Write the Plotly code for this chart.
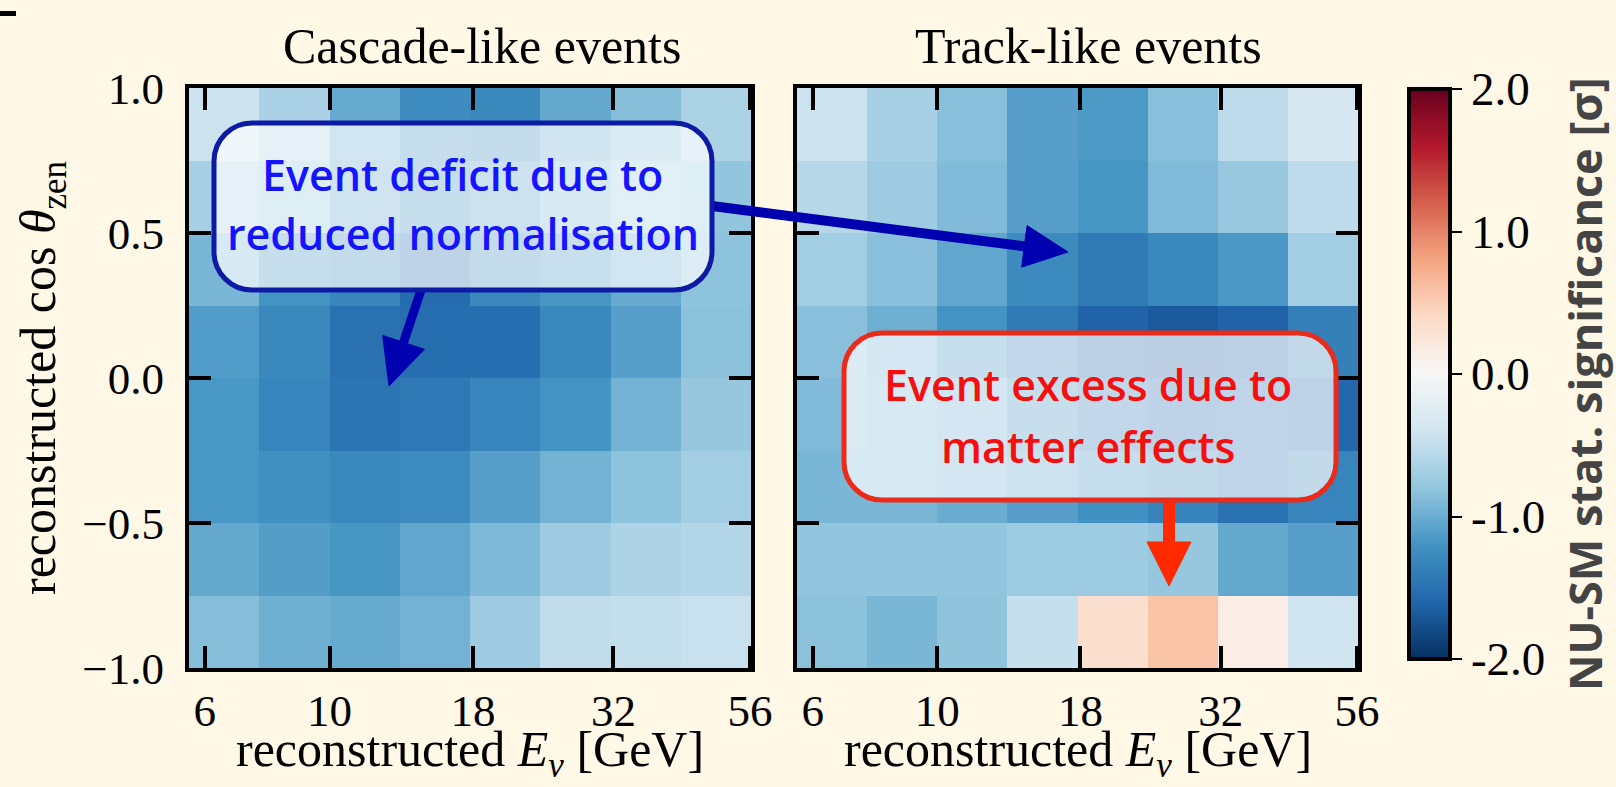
import math
import plotly.graph_objects as go

W, H = 1616, 787
BG = "#fff8e7"

# ---------------- data ----------------
energy_edges = [5.623, 7.499, 10.0, 13.335, 17.783, 23.714, 31.623, 42.170, 56.234]
cos_edges = [-1.0, -0.75, -0.5, -0.25, 0.0, 0.25, 0.5, 0.75, 1.0]
x_tick_vals = [6, 10, 18, 32, 56]
x_tick_text = ["6", "10", "18", "32", "56"]
y_tick_vals = [-1.0, -0.5, 0.0, 0.5, 1.0]
y_tick_text = ["\u22121.0", "\u22120.5", "0.0", "0.5", "1.0"]
cbar_tick_vals = [-2, -1, 0, 1, 2]
cbar_tick_text = ["-2.0", "-1.0", "0.0", "1.0", "2.0"]

# rows listed from top (cos 0.75..1.0) to bottom (cos -1.0..-0.75)
cascade_rows = [
    [-0.43, -0.65, -1.02, -1.25, -1.30, -1.03, -0.86, -0.64],
    [-0.66, -0.80, -1.05, -1.20, -1.10, -0.90, -0.75, -0.80],
    [-0.92, -1.20, -1.32, -1.55, -1.30, -1.18, -1.02, -0.82],
    [-1.13, -1.30, -1.50, -1.53, -1.52, -1.30, -1.10, -0.83],
    [-1.17, -1.33, -1.47, -1.44, -1.33, -1.20, -0.95, -0.77],
    [-1.17, -1.23, -1.30, -1.27, -1.10, -0.95, -0.82, -0.70],
    [-1.03, -1.12, -1.18, -1.05, -0.90, -0.72, -0.62, -0.60],
    [-0.86, -0.98, -1.02, -0.95, -0.72, -0.50, -0.48, -0.45],
]
track_rows = [
    [-0.43, -0.66, -0.85, -1.10, -1.15, -0.85, -0.53, -0.35],
    [-0.58, -0.72, -0.88, -1.10, -1.18, -0.88, -0.76, -0.53],
    [-0.70, -0.84, -1.05, -1.28, -1.42, -1.30, -1.16, -0.70],
    [-0.84, -0.98, -1.20, -1.42, -1.62, -1.68, -1.62, -1.37],
    [-0.88, -0.92, -1.00, -1.20, -1.40, -1.55, -1.50, -1.58],
    [-0.92, -0.92, -1.00, -1.10, -1.22, -1.35, -1.50, -1.33],
    [-0.80, -0.80, -0.80, -0.74, -0.73, -0.77, -1.03, -1.10],
    [-0.83, -0.92, -0.81, -0.47, 0.33, 0.58, 0.14, -0.40],
]

panel_titles = ["Cascade-like events", "Track-like events"]
x_title = "reconstructed <i>E<sub>\u03bd</sub></i> [GeV]"
y_title = "reconstructed cos <i>\u03b8</i><sub>zen</sub>"
cbar_title = "NU-SM stat. significance [\u03c3]"
deficit_lines = ["Event deficit due to", "reduced normalisation"]
excess_lines = ["Event excess due to", "matter effects"]

rdbu_r = [[0.0, "#053061"], [0.1, "#2166ac"], [0.2, "#4393c3"], [0.3, "#92c5de"],
          [0.4, "#d1e5f0"], [0.5, "#f7f7f7"], [0.6, "#fddbc7"], [0.7, "#f4a582"],
          [0.8, "#d6604d"], [0.9, "#b2182b"], [1.0, "#67001f"]]

# ---------------- helpers (pixel -> paper) ----------------
def PX(x):
    return x / W

def PY(y):
    return 1 - y / H

SERIF = "Liberation Serif"
SANS = "Open Sans"

fig = go.Figure()
fig.add_trace(go.Heatmap(x=energy_edges, y=cos_edges, z=cascade_rows[::-1],
                         coloraxis="coloraxis", xaxis="x", yaxis="y"))
fig.add_trace(go.Heatmap(x=energy_edges, y=cos_edges, z=track_rows[::-1],
                         coloraxis="coloraxis", xaxis="x2", yaxis="y2"))

panel_x = [(189, 751), (797, 1358)]
top, bottom = 88, 668

axis_common = dict(showline=True, linewidth=4, linecolor="black", mirror="ticks",
                   ticks="inside", ticklen=22, tickwidth=4, tickcolor="black",
                   showgrid=False, zeroline=False, automargin=False,
                   tickfont=dict(family=SERIF, size=45, color="black"))

xr = [math.log10(energy_edges[0]), math.log10(energy_edges[-1])]
layout = dict(
    width=W, height=H, margin=dict(l=0, r=0, t=0, b=0),
    paper_bgcolor=BG, plot_bgcolor=BG, showlegend=False,
    coloraxis=dict(colorscale=rdbu_r, cmin=-2, cmax=2,
                   colorbar=dict(x=PX(1409), xanchor="left", xpad=0, ypad=0,
                                 y=PY(89), yanchor="top", len=(659 - 89) / H, lenmode="fraction",
                                 thickness=41, thicknessmode="pixels",
                                 outlinewidth=4, outlinecolor="black",
                                 ticks="outside", ticklen=10, tickwidth=2, tickcolor="black",
                                 tickvals=cbar_tick_vals, ticktext=cbar_tick_text,
                                 tickfont=dict(family=SERIF, size=47, color="black"))),
)
for i, (xa, ya) in enumerate([("xaxis", "yaxis"), ("xaxis2", "yaxis2")]):
    x0, x1 = panel_x[i]
    layout[xa] = dict(axis_common, type="log", range=xr, domain=[PX(x0), PX(x1)],
                      tickvals=x_tick_vals, ticktext=x_tick_text,
                      anchor="y" if i == 0 else "y2")
    layout[ya] = dict(axis_common, range=[-1, 1], domain=[PY(bottom), PY(top)],
                      tickvals=y_tick_vals, ticktext=y_tick_text,
                      showticklabels=(i == 0),
                      anchor="x" if i == 0 else "x2", ticklabelstandoff=12)
fig.update_layout(**layout)

shapes = []
annotations = []

def rrect(x0, y0, x1, y1, r):
    k = 0.5523 * r
    pts = [("M", [(x0 + r, y0)]), ("L", [(x1 - r, y0)]),
           ("C", [(x1 - r + k, y0), (x1, y0 + r - k), (x1, y0 + r)]),
           ("L", [(x1, y1 - r)]),
           ("C", [(x1, y1 - r + k), (x1 - r + k, y1), (x1 - r, y1)]),
           ("L", [(x0 + r, y1)]),
           ("C", [(x0 + r - k, y1), (x0, y1 - r + k), (x0, y1 - r)]),
           ("L", [(x0, y0 + r)]),
           ("C", [(x0, y0 + r - k), (x0 + r - k, y0), (x0 + r, y0)])]
    s = ""
    for cmd, pp in pts:
        s += cmd + " " + " ".join(f"{PX(a):.5f},{PY(b):.5f}" for a, b in pp) + " "
    return s + "Z"

def arrow(x0, y0, x1, y1, w, hl, hw, color):
    dx, dy = x1 - x0, y1 - y0
    L = math.hypot(dx, dy)
    ux, uy = dx / L, dy / L
    bx, by = x1 - ux * hl, y1 - uy * hl
    nx, ny = -uy, ux
    shapes.append(dict(type="line", xref="paper", yref="paper",
                       x0=PX(x0), y0=PY(y0), x1=PX(bx + ux * 3), y1=PY(by + uy * 3),
                       line=dict(color=color, width=w)))
    p = [(x1, y1), (bx + nx * hw / 2, by + ny * hw / 2), (bx - nx * hw / 2, by - ny * hw / 2)]
    path = "M " + " L ".join(f"{PX(a):.5f},{PY(b):.5f}" for a, b in p) + " Z"
    shapes.append(dict(type="path", xref="paper", yref="paper", path=path,
                       fillcolor=color, line=dict(color=color, width=1)))

# arrows
BLUE_ARROW = "#0000b0"
RED_ARROW = "#ff2a00"
arrow(421, 290, 389, 386, 9, 46, 44, BLUE_ARROW)
arrow(712, 206, 1068, 252, 10, 44, 42, BLUE_ARROW)
arrow(1169, 500, 1169, 586, 12, 44, 44, RED_ARROW)

# boxes
shapes.append(dict(type="path", xref="paper", yref="paper", path=rrect(214, 123, 712, 290, 38),
                   fillcolor="rgba(255,255,255,0.70)", line=dict(color="#0d1aa3", width=5)))
shapes.append(dict(type="path", xref="paper", yref="paper", path=rrect(844, 333, 1336, 500, 38),
                   fillcolor="rgba(255,255,255,0.70)", line=dict(color="#ec2a1a", width=5)))
# small stray mark at top-left corner
shapes.append(dict(type="rect", xref="paper", yref="paper", x0=PX(0), x1=PX(16), y0=PY(16), y1=PY(11),
                   fillcolor="black", line=dict(width=0)))

def text(x, y, t, size, color, family, angle=0, weight="normal"):
    annotations.append(dict(xref="paper", yref="paper", x=PX(x), y=PY(y), text=t,
                            showarrow=False, xanchor="center", yanchor="middle", textangle=angle,
                            font=dict(family=family, size=size, color=color, weight=weight)))

text(482, 46, panel_titles[0], 50, "black", SERIF)
text(1088, 46, panel_titles[1], 50, "black", SERIF)
text(470, 753, x_title, 50, "black", SERIF)
text(1078, 753, x_title, 50, "black", SERIF)
text(42, 378, y_title, 50, "black", SERIF, angle=-90)
text(1584, 384, cbar_title, 45, "#444444", SANS, angle=-90, weight="bold")

text(463, 174, deficit_lines[0], 43, "#1414ff", SANS, weight=600)
text(463, 234, deficit_lines[1], 43, "#1414ff", SANS, weight=600)
text(1088, 384, excess_lines[0], 43, "#f50f0f", SANS, weight=600)
text(1088, 447, excess_lines[1], 43, "#f50f0f", SANS, weight=600)

fig.update_layout(shapes=shapes, annotations=annotations)
fig.write_html("out.html")
